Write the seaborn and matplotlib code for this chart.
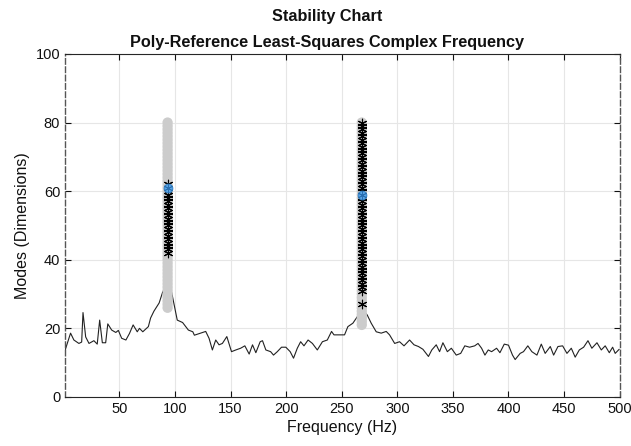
import numpy as np
import pandas as pd
import matplotlib
matplotlib.use("Agg")
import matplotlib.pyplot as plt
import seaborn as sns

# FRF magnitude trace (scaled to the order axis)
freq_hz = [1, 3, 6, 9, 13.5, 16, 17.2, 19.6, 22.6, 27, 30, 32.2, 34.6, 37.6, 39.5,
           43, 46.7, 49, 52, 55.8, 59, 62.3, 66, 68, 71, 76, 78, 81, 85.7, 88.7,
           91, 93.3, 95, 97, 102, 106.8, 112, 116, 117.4, 122, 123, 127.6, 130.6,
           133.6, 136.6, 139.6, 142.6, 146.6, 150.8, 154.7, 159, 162.8, 166.7,
           169.7, 172.7, 176.6, 178.7, 181.7, 186, 188.6, 192, 195.8, 199.7,
           203.6, 206.6, 210, 213, 216, 219.7, 223.6, 228, 232.6, 237, 240.8,
           243, 249, 252.5, 255.5, 260, 264, 266, 268, 270, 272.9, 276.5, 281,
           285.5, 290, 293, 297.6, 302, 306, 311, 315, 319, 323, 328, 331, 335,
           338, 341, 345, 348.6, 353, 357, 360.7, 365, 369.6, 372.6, 375.8,
           378.8, 381.8, 384.8, 389.3, 392.3, 396.2, 400, 403.6, 406, 410.5,
           413.5, 417.4, 421, 425.6, 429.5, 433, 437.6, 440.6, 444.5, 448.7,
           452.6, 456.5, 460, 463.7, 467.6, 471.5, 475, 479.6, 483.5, 487,
           490.7, 493.7, 496, 499.6]
frf_level = [13.5, 15.5, 18.6, 16.6, 15.6, 16.0, 24.6, 17.5, 15.6, 16.4, 15.4,
             22.4, 15.8, 15.8, 21.3, 19.5, 18.8, 19.4, 17.1, 16.6, 18.5, 21.0,
             19.0, 20.0, 19.0, 20.5, 23.0, 25.0, 27.4, 30.4, 32.0, 33.0, 32.0,
             30.4, 22.4, 21.7, 19.5, 19.0, 18.0, 18.5, 18.6, 19.1, 17.1, 13.7,
             16.6, 15.2, 15.6, 17.6, 13.2, 13.7, 14.2, 14.9, 12.5, 15.2, 12.9,
             16.1, 16.4, 13.7, 13.2, 12.2, 13.2, 14.5, 14.5, 13.2, 11.3, 14.2,
             16.1, 14.9, 16.6, 15.6, 13.7, 16.1, 16.6, 19.1, 18.1, 18.1, 18.1,
             20.5, 21.5, 23.4, 25.0, 25.5, 25.0, 23.9, 21.5, 19.0, 18.6, 19.1,
             18.1, 15.6, 16.1, 14.9, 16.6, 15.2, 14.7, 13.9, 11.8, 13.7, 15.2,
             13.2, 15.8, 13.2, 14.2, 12.2, 12.7, 14.9, 14.5, 14.9, 15.6, 14.2,
             12.2, 13.7, 13.2, 14.2, 12.9, 15.4, 15.1, 12.2, 10.9, 12.7, 13.2,
             14.9, 13.2, 12.2, 15.4, 12.7, 14.7, 12.2, 14.7, 14.9, 12.7, 14.2,
             11.6, 13.7, 14.5, 16.4, 14.2, 15.8, 13.7, 14.9, 12.9, 14.5, 12.7,
             13.9]

# poles per mode: (frequency, first/last order computed, stable orders, chosen order)
mode_freq = [93.3, 268.0]
pole_first = [26, 21]
pole_last = [80, 80]
stable_orders = [
    list(range(42, 63)),
    [27] + list(range(31, 81)),
]
chosen_order = [61, 59]

sns.set_theme(style="ticks")
plt.rcParams["font.family"] = ["Liberation Sans", "DejaVu Sans"]
ink = "#111111"

fig = plt.figure(figsize=(6.31, 4.46), dpi=100)
ax = fig.add_axes([0.103, 0.11, 0.879, 0.769])

frf = pd.DataFrame({"freq": freq_hz, "level": frf_level})
sns.lineplot(data=frf, x="freq", y="level", ax=ax, color="#222222",
             linewidth=0.8, zorder=2)

for f, lo, hi, st, ch in zip(mode_freq, pole_first, pole_last,
                             stable_orders, chosen_order):
    orders = list(range(lo, hi + 1))
    all_poles = pd.DataFrame({"freq": [f] * len(orders), "order": orders})
    sns.scatterplot(data=all_poles, x="freq", y="order", ax=ax, marker="o",
                    s=55, color="#cccccc", edgecolor="none", zorder=3)
    stab = pd.DataFrame({"freq": [f] * len(st), "order": st})
    sns.scatterplot(data=stab, x="freq", y="order", ax=ax, marker=(6, 2, 0),
                    s=38, color="black", linewidth=0.8, zorder=4)
    ax.scatter([f], [ch], marker="o", s=38, color="#5aa5e6",
               edgecolor="#3a88cc", linewidth=0.8, zorder=5)
    ax.scatter([f], [ch], marker=(6, 2, 0), s=36, color="#2a6fb0",
               linewidth=0.6, zorder=6)

ax.set_xlim(1, 500)
ax.set_ylim(0, 100)
ax.set_xticks(range(50, 501, 50))
ax.set_yticks(range(0, 101, 20))
ax.grid(True, color="#e6e6e6", linewidth=0.8)
ax.set_axisbelow(True)
ax.tick_params(direction="in", length=4, width=0.8, colors=ink,
               labelsize=10.5, top=True, right=True)
for side in ["top", "bottom"]:
    ax.spines[side].set_color("#262626")
    ax.spines[side].set_linewidth(0.8)
for side in ["left", "right"]:
    ax.spines[side].set_color("#555555")
    ax.spines[side].set_linestyle((0, (4, 2)))
    ax.spines[side].set_linewidth(1.0)

ax.set_xlabel("Frequency (Hz)", fontsize=11.5, labelpad=3, color=ink)
ax.set_ylabel("Modes (Dimensions)", fontsize=11.5, labelpad=4, color=ink)
ax.set_title("Stability Chart\nPoly-Reference Least-Squares Complex Frequency",
             fontsize=11.7, fontweight="bold", pad=5, linespacing=1.95,
             x=0.472, color=ink)

fig.savefig("out.png", dpi=100)
